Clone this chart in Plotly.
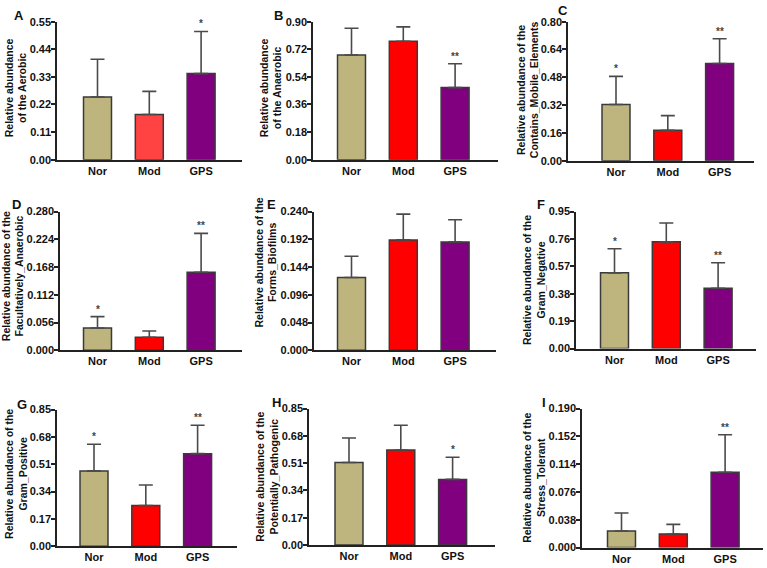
import plotly.graph_objects as go

categories = ["Nor", "Mod", "GPS"]

panel_letters = ["A", "B", "C", "D", "E", "F", "G", "H", "I"]
y_titles = [
    "Relative abundance<br>of the Aerobic",
    "Relative abundance<br>of the Anaerobic",
    "Relative abundance of the<br>Contains_Mobile_Elements",
    "Relative abundance of the<br>Facultatively_Anaerobic",
    "Relative abundance of the<br>Forms_Biofilms",
    "Relative abundance of the<br>Gram_Negative",
    "Relative abundance of the<br>Gram_Positive",
    "Relative abundance of the<br>Potentially_Pathogenic",
    "Relative abundance of the<br>Stress_Tolerant",
]

means_aerobic = [0.250, 0.180, 0.343]
err_aerobic = [0.150, 0.092, 0.168]
stars_aerobic = ["", "", "*"]

means_anaerobic = [0.683, 0.772, 0.470]
err_anaerobic = [0.174, 0.094, 0.156]
stars_anaerobic = ["", "", "**"]

means_mobile = [0.323, 0.175, 0.559]
err_mobile = [0.162, 0.084, 0.143]
stars_mobile = ["*", "", "**"]

means_facult = [0.0448, 0.0264, 0.1575]
err_facult = [0.0231, 0.0125, 0.0785]
stars_facult = ["*", "", "**"]

means_biofilm = [0.126, 0.191, 0.1875]
err_biofilm = [0.0366, 0.0445, 0.0384]
stars_biofilm = ["", "", ""]

means_gramneg = [0.525, 0.740, 0.418]
err_gramneg = [0.167, 0.131, 0.177]
stars_gramneg = ["*", "", "**"]

means_grampos = [0.469, 0.254, 0.576]
err_grampos = [0.166, 0.127, 0.177]
stars_grampos = ["*", "", "**"]

means_patho = [0.514, 0.592, 0.409]
err_patho = [0.153, 0.154, 0.138]
stars_patho = ["", "", "*"]

means_stress = [0.0227, 0.0187, 0.1030]
err_stress = [0.0246, 0.0130, 0.0513]
stars_stress = ["", "", "**"]

y_max = [0.55, 0.90, 0.80, 0.280, 0.240, 0.95, 0.85, 0.85, 0.190]
y_dtick = [0.11, 0.18, 0.16, 0.056, 0.048, 0.19, 0.17, 0.17, 0.038]
y_format = [".2f", ".2f", ".2f", ".3f", ".3f", ".2f", ".2f", ".2f", ".3f"]

all_means = [means_aerobic, means_anaerobic, means_mobile, means_facult, means_biofilm,
             means_gramneg, means_grampos, means_patho, means_stress]
all_errs = [err_aerobic, err_anaerobic, err_mobile, err_facult, err_biofilm,
            err_gramneg, err_grampos, err_patho, err_stress]
all_stars = [stars_aerobic, stars_anaerobic, stars_mobile, stars_facult, stars_biofilm,
             stars_gramneg, stars_grampos, stars_patho, stars_stress]

# layout geometry in pixels: axis x0, x1, plot top, plot bottom, first bar center
W, H = 767, 568
geom = [
    (57, 242, 16, 157, 97.5),
    (313, 498, 16, 157, 351.5),
    (568, 754, 16, 158, 616),
    (60, 242, 210, 351.7, 97.5),
    (314, 496, 210, 351.7, 351.5),
    (576, 756, 210, 350, 614.5),
    (57, 237, 412.3, 552, 94),
    (309, 495, 411.3, 550.7, 349),
    (582, 763, 411.3, 553.3, 621.5),
]
spacing = 51.8
title_pos = [(16, 84), (271, 84), (528, 86), (13, 276), (266, 262), (534, 280),
             (16, 478), (267, 481), (534, 482)]
letter_pos = [(19, 10), (278, 10), (563, 5), (16, 203), (271, 203), (541, 203),
              (22, 407), (276, 405), (544, 405)]

nor_color = "#BDB57D"
mod_colors_first = "#FF4343"
mod_color = "#FF0000"
gps_color = "#800080"

FONT = "Liberation Sans, Arial, sans-serif"

fig = go.Figure()
annotations = []
layout_axes = {}

for i in range(9):
    x0, x1, yt, yb, c0 = geom[i]
    idx = "" if i == 0 else str(i + 1)
    colors = [nor_color, mod_colors_first if i == 0 else mod_color, gps_color]
    fig.add_trace(go.Bar(
        x=categories, y=all_means[i],
        marker=dict(color=colors, line=dict(color="#3a3a3a", width=1.5)),
        width=0.54,
        error_y=dict(type="data", symmetric=False, array=all_errs[i],
                     arrayminus=[0, 0, 0], color="#4a4a4a", thickness=1.6, width=7),
        xaxis="x" + idx, yaxis="y" + idx, showlegend=False,
    ))
    xr = [(x0 - c0) / spacing, (x1 - c0) / spacing]
    layout_axes["xaxis" + idx] = dict(
        domain=[x0 / W, x1 / W], anchor="y" + idx, range=xr,
        showline=True, linecolor="#222", linewidth=1.5, ticks="",
        showgrid=False, zeroline=False,
        tickfont=dict(family=FONT, size=11, color="#111", weight="bold"),
        categoryorder="array", categoryarray=categories,
    )
    layout_axes["yaxis" + idx] = dict(
        domain=[1 - yb / H, 1 - yt / H], anchor="x" + idx,
        range=[0, y_max[i]], tick0=0, dtick=y_dtick[i], tickformat=y_format[i],
        showline=True, linecolor="#222", linewidth=1.5, ticks="outside",
        ticklen=4, tickwidth=1.5, tickcolor="#222", ticklabelstandoff=-2,
        showgrid=False, zeroline=False,
        tickfont=dict(family=FONT, size=11, color="#111", weight="bold"),
    )
    tx, ty = title_pos[i]
    annotations.append(dict(
        text=y_titles[i], xref="paper", yref="paper", x=tx / W, y=1 - ty / H,
        xanchor="center", yanchor="middle", textangle=-90, showarrow=False,
        font=dict(family=FONT, size=10.5, color="#111", weight="bold"), align="center",
    ))
    lx, ly = letter_pos[i]
    annotations.append(dict(
        text=panel_letters[i], xref="paper", yref="paper", x=lx / W, y=1 - ly / H,
        xanchor="center", yanchor="middle", showarrow=False,
        font=dict(family=FONT, size=13, color="#111", weight="bold"),
    ))
    for j, s in enumerate(all_stars[i]):
        if s:
            annotations.append(dict(
                text=s, x=categories[j], y=all_means[i][j] + all_errs[i][j],
                xref="x" + idx, yref="y" + idx, yanchor="bottom", yshift=0,
                showarrow=False,
                font=dict(family=FONT, size=10, color="#444", weight="bold"),
            ))

fig.update_layout(
    width=W, height=H, margin=dict(l=0, r=0, t=0, b=0),
    paper_bgcolor="white", plot_bgcolor="white",
    annotations=annotations, bargap=0.3, **layout_axes,
)

fig.write_html("out.html")
